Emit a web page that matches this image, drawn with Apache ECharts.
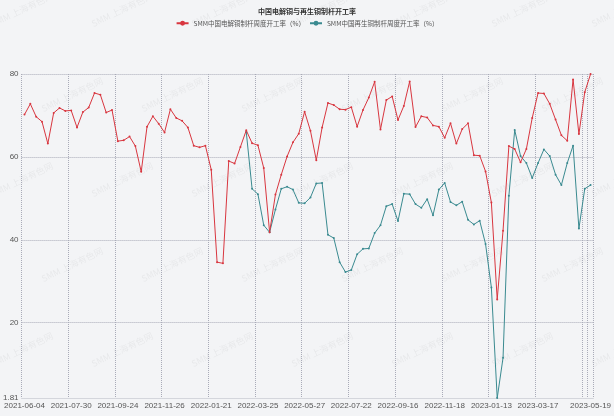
<!DOCTYPE html>
<html>
<head>
<meta charset="utf-8">
<script src="https://cdn.jsdelivr.net/npm/echarts@6/dist/echarts.min.js"></script>
<style>
  html, body { margin: 0; padding: 0; background: #f3f4f6; }
  #chart { width: 614px; height: 416px; }
</style>
</head>
<body>
<div id="chart"></div>
<script>
// weekly dates (holiday weeks missing)
const weeks = [
  '2021-06-04','2021-06-11','2021-06-18','2021-06-25','2021-07-02','2021-07-09','2021-07-16','2021-07-23',
  '2021-07-30','2021-08-06','2021-08-13','2021-08-20','2021-08-27','2021-09-03','2021-09-10','2021-09-17',
  '2021-09-24','2021-10-08','2021-10-15','2021-10-22','2021-10-29','2021-11-05','2021-11-12','2021-11-19',
  '2021-11-26','2021-12-03','2021-12-10','2021-12-17','2021-12-24','2021-12-31','2022-01-07','2022-01-14',
  '2022-01-21','2022-01-28','2022-02-11','2022-02-18','2022-02-25','2022-03-04','2022-03-11','2022-03-18',
  '2022-03-25','2022-04-01','2022-04-08','2022-04-15','2022-04-22','2022-04-29','2022-05-13','2022-05-20',
  '2022-05-27','2022-06-03','2022-06-10','2022-06-17','2022-06-24','2022-07-01','2022-07-08','2022-07-15',
  '2022-07-22','2022-07-29','2022-08-05','2022-08-12','2022-08-19','2022-08-26','2022-09-02','2022-09-09',
  '2022-09-16','2022-09-23','2022-09-30','2022-10-14','2022-10-21','2022-10-28','2022-11-04','2022-11-11',
  '2022-11-18','2022-11-25','2022-12-02','2022-12-09','2022-12-16','2022-12-23','2022-12-30','2023-01-06',
  '2023-01-13','2023-01-20','2023-02-03','2023-02-10','2023-02-17','2023-02-24','2023-03-03','2023-03-10',
  '2023-03-17','2023-03-24','2023-03-31','2023-04-07','2023-04-14','2023-04-21','2023-04-28','2023-05-05',
  '2023-05-12','2023-05-19'
];

// SMM中国电解铜制杆周度开工率
const cathodeRate = [
  70.2, 72.8, 69.7, 68.5, 63.2, 70.6, 71.8, 71.1, 71.2, 67.1,
  70.8, 71.9, 75.4, 75.0, 70.7, 71.3, 63.8, 64.0, 64.9, 62.6,
  56.4, 67.3, 69.8, 68.0, 65.9, 71.5, 69.4, 68.7, 67.1, 62.7,
  62.3, 62.7, 56.9, 34.6, 34.3, 59.0, 58.4, 62.4, 66.4, 63.3,
  62.8, 57.3, 41.8, 50.9, 55.7, 60.1, 63.5, 65.6, 70.9, 66.3,
  59.2, 67.1, 73.0, 72.5, 71.5, 71.4, 72.0, 67.3, 71.3, 74.3,
  78.1, 66.6, 73.7, 74.6, 68.9, 72.3, 78.2, 67.2, 69.8, 69.5,
  67.6, 67.3, 64.6, 68.1, 63.2, 66.7, 68.1, 60.4, 60.3, 56.5,
  49.0, 25.6, 42.2, 62.6, 61.9, 58.7, 61.9, 69.4, 75.4, 75.3,
  72.8, 69.0, 65.2, 63.9, 78.7, 65.5, 75.6, 80.0
];

// SMM中国再生铜制杆周度开工率 (starts 2022-03-18)
const recycledRate = [
  null, null, null, null, null, null, null, null, null, null,
  null, null, null, null, null, null, null, null, null, null,
  null, null, null, null, null, null, null, null, null, null,
  null, null, null, null, null, null, null, null, 66.0, 52.3,
  51.0, 43.5, 41.8, 47.3, 52.3, 52.8, 52.1, 48.9, 48.8, 50.2,
  53.6, 53.7, 41.2, 40.4, 34.6, 32.2, 32.7, 36.5, 37.8, 37.9,
  41.6, 43.5, 48.1, 48.6, 44.5, 51.1, 51.0, 48.6, 47.7, 49.8,
  45.9, 52.1, 53.7, 49.1, 48.3, 49.2, 44.8, 43.7, 44.6, 39.0,
  28.5, 1.81, 11.5, 50.6, 66.5, 60.2, 58.5, 54.9, 58.5, 61.8,
  60.2, 55.7, 53.2, 58.5, 62.7, 42.7, 52.3, 53.2
];

const seriesNames = ['SMM中国电解铜制杆周度开工率（%）', 'SMM中国再生铜制杆周度开工率（%）'];
const colors = ['#d8363f', '#3a8a90'];

const last = weeks.length - 1;
const cjk = '"Noto Sans CJK SC", sans-serif';
const latin = '"Liberation Sans", "Noto Sans", sans-serif';

// faint watermark
const marks = [];
for (let r = 0; r < 5; r++) {
  for (let c = 0; c < 7; c++) {
    marks.push({
      type: 'text',
      x: c * 100 + (r % 2) * 50 - 10,
      y: r * 85 + 20,
      rotation: Math.PI / 7,
      silent: true,
      z: 0,
      style: { text: 'SMM 上海有色网', fill: 'rgba(0,0,0,0.05)', font: '9px ' + cjk }
    });
  }
}

const chart = echarts.init(document.getElementById('chart'));
chart.setOption({
  backgroundColor: '#f3f4f6',
  animation: false,
  color: colors,
  graphic: marks,
  title: {
    text: '中国电解铜与再生铜制杆开工率',
    left: 'center',
    top: 3,
    textStyle: { fontSize: 7, fontWeight: 'bold', color: '#333', fontFamily: cjk }
  },
  legend: {
    top: 15,
    left: 'center',
    itemWidth: 12,
    itemHeight: 6,
    itemGap: 4,
    textStyle: { fontSize: 6.5, color: '#555', fontFamily: cjk },
    data: seriesNames
  },
  grid: { left: 20, right: 14, top: 74, bottom: 18, containLabel: false },
  xAxis: {
    type: 'category',
    data: weeks,
    boundaryGap: true,
    axisLine: { lineStyle: { color: '#d4d6dc' } },
    axisTick: { show: false },
    axisLabel: {
      color: '#555',
      fontSize: 8,
      fontFamily: latin,
      margin: 4,
      showMinLabel: true,
      showMaxLabel: true,
      hideOverlap: false,
      interval: (i) => (i % 8 === 0 && i < 96) || i === last
    },
    splitLine: {
      show: true,
      interval: (i) => i % 8 === 0 || i === last,
      lineStyle: { type: 'dotted', color: '#a9abb8' }
    }
  },
  yAxis: {
    type: 'value',
    min: 1.81,
    max: 80,
    axisLine: { show: false },
    axisTick: { show: false },
    axisLabel: { color: '#555', fontSize: 8, fontFamily: latin, margin: 3 },
    splitLine: { lineStyle: { type: 'dotted', color: '#a9abb8' } }
  },
  series: [
    {
      name: seriesNames[0],
      type: 'line',
      data: cathodeRate,
      symbol: 'circle',
      symbolSize: 2,
      lineStyle: { width: 1 },
      z: 3
    },
    {
      name: seriesNames[1],
      type: 'line',
      data: recycledRate,
      symbol: 'circle',
      symbolSize: 2,
      lineStyle: { width: 1 },
      connectNulls: false,
      z: 2
    }
  ]
});
</script>
</body>
</html>
